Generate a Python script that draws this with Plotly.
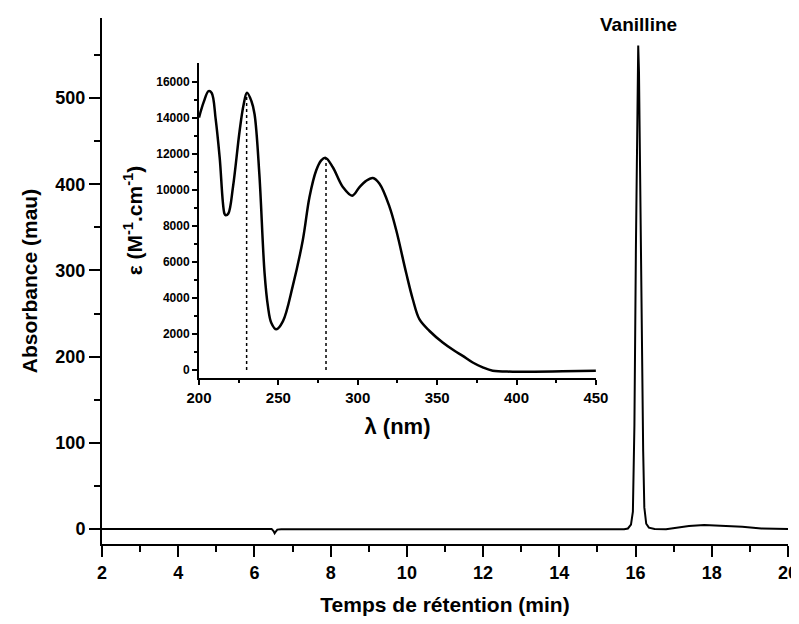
import plotly.graph_objects as go

# Chromatogram (retention time in min, absorbance in mau)
t_min = [2.0, 4.0, 6.0, 6.45, 6.50, 6.53, 6.56, 6.60, 6.70, 7.6, 7.75, 9.0, 12.0, 14.0, 15.0,
         15.70, 15.80, 15.88, 15.93, 15.97, 16.01, 16.05, 16.07, 16.09, 16.12, 16.16, 16.20,
         16.23, 16.28, 16.35, 16.50, 16.80, 17.1, 17.4, 17.8, 18.2, 18.8, 19.3, 20.0]
abs_mau = [0.0, 0.0, 0.0, 0.0, -2.5, -5.0, -3.0, -0.8, -0.5, -0.5, -1.0, -1.0, -1.0, -1.0, -0.8,
           -0.3, 0.5, 5.0, 20.0, 120.0, 330.0, 520.0, 561.0, 530.0, 400.0, 250.0, 90.0,
           25.0, 6.0, 1.5, 0.0, -0.5, 1.5, 3.5, 4.5, 4.0, 2.5, 0.5, 0.0]

# UV spectrum inset (wavelength nm, molar absorptivity M-1 cm-1)
lam_nm = [200, 203, 206, 208, 210.5, 213, 216, 216.8, 218.5, 221.4, 225.6, 228, 230.2, 233, 235,
          238, 241.3, 243.4, 245.5, 248.7, 252.9, 259, 265.4, 269.6, 273.8, 277, 279.7, 284.3,
          290.6, 296.5, 301.1, 305, 309.5, 313.7, 320, 324.2, 330.5, 334.7, 338.9, 345.2, 353.5,
          360.9, 366.1, 372.4, 378.7, 385, 397.6, 429, 450]
eps = [14030, 14900, 15500, 15400, 13940, 11830, 8700, 8600, 8700, 10170, 13300, 14700, 15410,
       14950, 14215, 10900, 5390, 3550, 2630, 2262, 2720, 4650, 7230, 9620, 11090, 11650, 11790,
       11270, 10170, 9690, 10170, 10500, 10670, 10350, 9070, 7780, 5390, 3920, 2810, 2170, 1530,
       1070, 790, 420, 150, -40, -90, -70, -40]

# Marked absorption maxima
lam_max = [230, 280]
eps_max = [15400, 11800]

# Tick values
main_xticks = [2, 4, 6, 8, 10, 12, 14, 16, 18, 20]
main_yticks = [0, 100, 200, 300, 400, 500]
inset_xticks = [200, 250, 300, 350, 400, 450]
inset_yticks = [0, 2000, 4000, 6000, 8000, 10000, 12000, 14000, 16000]

peak_name = "Vanilline"
peak_t = 16.07

FONT = "Liberation Sans, Arial, sans-serif"


def bold(vals):
    return ["<b>%d</b>" % v for v in vals]


fig = go.Figure()
fig.add_trace(go.Scatter(x=t_min, y=abs_mau, mode="lines", line=dict(color="black", width=2),
                         showlegend=False, hoverinfo="skip"))
fig.add_trace(go.Scatter(x=lam_nm, y=eps, mode="lines", line=dict(color="black", width=2.5, shape="spline"),
                         xaxis="x2", yaxis="y2", showlegend=False, hoverinfo="skip"))
for lx, ly in zip(lam_max, eps_max):
    fig.add_trace(go.Scatter(x=[lx, lx], y=[0, ly], mode="lines",
                             line=dict(color="black", width=1.5, dash="dot"),
                             xaxis="x2", yaxis="y2", showlegend=False, hoverinfo="skip"))

axis_common = dict(showgrid=False, zeroline=False, showline=True, linecolor="black",
                   ticks="outside", tickcolor="black", automargin=False,
                   ticklabeloverflow="allow")

fig.update_layout(
    width=799, height=608,
    margin=dict(l=94, r=19, t=10, b=72),
    paper_bgcolor="white", plot_bgcolor="white",
    font=dict(family=FONT, color="black"),
    xaxis=dict(**axis_common, range=[2, 20], tickvals=main_xticks, ticktext=bold(main_xticks),
               linewidth=2, tickwidth=2, ticklen=11,
               minor=dict(ticks="outside", tickvals=[3, 5, 7, 9, 11, 13, 15, 17, 19], ticklen=6,
                          tickwidth=2, tickcolor="black"),
               tickfont=dict(size=18, family=FONT),
               title=dict(text="<b>Temps de rétention (min)</b>", font=dict(size=21, family=FONT),
                          standoff=21)),
    yaxis=dict(**axis_common, range=[-17.5, 593], tickvals=main_yticks, ticktext=bold(main_yticks),
               linewidth=2, tickwidth=2, ticklen=11,
               minor=dict(ticks="outside", tickvals=[50, 150, 250, 350, 450, 550], ticklen=6,
                          tickwidth=2, tickcolor="black"),
               tickfont=dict(size=18, family=FONT),
               title=dict(text="<b>Absorbance (mau)</b>", font=dict(size=21, family=FONT),
                          standoff=12)),
    xaxis2=dict(**axis_common, domain=[0.1414, 0.720], anchor="y2", range=[200, 450],
                tickvals=inset_xticks, ticktext=bold(inset_xticks),
                linewidth=2, tickwidth=1.5, ticklen=5,
                minor=dict(ticks="outside", tickvals=[225, 275, 325, 375, 425], ticklen=3,
                           tickwidth=1.5, tickcolor="black"),
                tickfont=dict(size=15, family=FONT),
                title=dict(text="<b>λ (nm)</b>", font=dict(size=22, family=FONT), standoff=14)),
    yaxis2=dict(**axis_common, domain=[0.316, 0.914], anchor="x2", range=[-430, 17050],
                tickvals=inset_yticks, ticktext=bold(inset_yticks),
                linewidth=2, tickwidth=1.5, ticklen=5,
                minor=dict(ticks="outside",
                           tickvals=[1000, 3000, 5000, 7000, 9000, 11000, 13000, 15000],
                           ticklen=3, tickwidth=1.5, tickcolor="black"),
                tickfont=dict(size=12, family=FONT),
                title=dict(text="<b>ε (M<sup>-1</sup>.cm<sup>-1</sup>)</b>",
                           font=dict(size=21, family=FONT), standoff=8)),
    annotations=[dict(x=peak_t, y=0.987, xref="x", yref="paper", yanchor="middle",
                      text="<b>" + peak_name + "</b>", showarrow=False,
                      font=dict(size=19, family=FONT, color="black"))],
)

fig.write_html("out.html")
